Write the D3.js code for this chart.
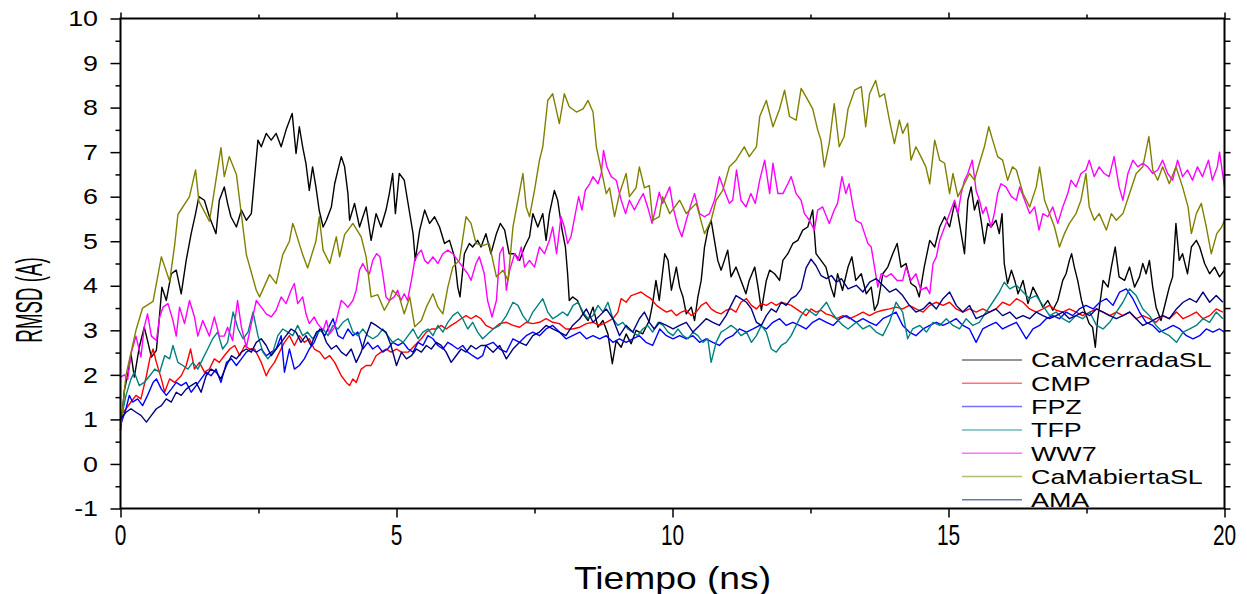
<!DOCTYPE html>
<html>
<head>
<meta charset="utf-8">
<script src="https://cdn.jsdelivr.net/npm/d3@7"></script>
<style>
  body { margin: 0; background: #fff; }
  svg { display: block; }
  text { font-family: "Liberation Sans", Arial, sans-serif; fill: #000; }
</style>
</head>
<body>
<svg id="chart" width="1247" height="594"></svg>
<script>
//////// Data (time in ns, RMSD in A)

var seriesNames = ["CaMcerradaSL", "CMP", "FPZ", "TFP", "WW7", "CaMabiertaSL", "AMA"]
var seriesColors = ["#000000", "#ff0000", "#0000ff", "#008080", "#ff00ff", "#808000", "#000080"]

var xTicks = [0, 5, 10, 15, 20]
var yTicks = [-1, 0, 1, 2, 3, 4, 5, 6, 7, 8, 9, 10]

var cerradaSL = [[0,0.75],[0.07,1.65],[0.13,2.0],[0.19,2.47],[0.25,1.95],[0.34,2.62],[0.43,3.07],[0.49,2.77],[0.56,2.4],[0.65,2.55],[0.71,3.37],[0.75,3.97],[0.83,3.67],[0.92,4.27],[1.01,4.35],[1.1,3.82],[1.19,4.57],[1.28,5.17],[1.36,5.62],[1.42,6.0],[1.52,5.92],[1.61,5.55],[1.73,5.17],[1.79,5.92],[1.88,6.22],[1.94,5.85],[2.0,5.55],[2.1,5.32],[2.19,5.7],[2.28,5.47],[2.37,5.62],[2.43,6.45],[2.49,7.27],[2.55,7.12],[2.64,7.42],[2.73,7.27],[2.82,7.42],[2.91,7.12],[3.0,7.5],[3.11,7.87],[3.18,6.97],[3.24,7.57],[3.3,7.12],[3.36,6.74],[3.42,6.14],[3.48,6.67],[3.54,6.22],[3.6,5.69],[3.67,5.32],[3.73,5.47],[3.82,5.77],[3.88,6.29],[3.94,6.6],[4.0,6.9],[4.06,6.67],[4.12,6.07],[4.15,5.47],[4.24,5.85],[4.33,5.32],[4.45,5.77],[4.54,5.02],[4.63,5.62],[4.72,5.32],[4.81,5.7],[4.87,6.07],[4.93,6.52],[4.98,5.62],[5.05,6.52],[5.14,6.37],[5.2,5.92],[5.3,5.17],[5.34,4.57],[5.42,5.25],[5.51,5.7],[5.6,5.4],[5.69,5.55],[5.78,5.32],[5.87,4.95],[5.96,5.02],[6.05,4.65],[6.11,3.97],[6.15,3.75],[6.23,4.72],[6.32,4.95],[6.38,4.87],[6.47,5.02],[6.53,4.87],[6.62,5.17],[6.71,4.72],[6.81,5.17],[6.88,5.4],[6.96,5.25],[7.04,4.72],[7.14,4.72],[7.23,4.57],[7.32,4.87],[7.41,5.1],[7.47,5.62],[7.56,5.32],[7.65,5.62],[7.71,5.02],[7.77,5.62],[7.86,6.14],[7.92,5.92],[8.0,5.25],[8.06,4.87],[8.1,4.27],[8.13,3.67],[8.19,3.75],[8.28,3.67],[8.38,3.37],[8.47,3.22],[8.56,3.52],[8.65,3.07],[8.74,3.22],[8.83,2.92],[8.91,2.25],[8.98,2.77],[9.07,2.62],[9.16,2.92],[9.25,2.7],[9.34,3.0],[9.46,2.92],[9.58,3.22],[9.64,3.6],[9.7,4.12],[9.76,3.67],[9.86,4.72],[9.92,4.57],[9.98,3.9],[10.07,4.42],[10.13,3.97],[10.19,3.75],[10.25,3.37],[10.34,3.52],[10.4,3.22],[10.46,3.75],[10.52,4.12],[10.58,4.87],[10.64,5.25],[10.7,5.47],[10.76,5.02],[10.82,4.57],[10.88,4.35],[10.94,4.57],[11.0,4.8],[11.06,4.2],[11.15,4.42],[11.24,4.12],[11.33,3.82],[11.39,4.12],[11.49,4.42],[11.55,3.97],[11.61,3.45],[11.7,4.12],[11.76,4.35],[11.85,4.27],[11.94,4.12],[12.0,4.57],[12.09,4.72],[12.18,4.95],[12.27,5.02],[12.36,5.25],[12.45,5.32],[12.54,5.7],[12.6,4.72],[12.69,4.57],[12.78,4.42],[12.87,3.97],[12.93,3.75],[12.99,4.27],[13.08,3.9],[13.18,4.42],[13.25,4.65],[13.32,4.12],[13.42,4.27],[13.51,3.82],[13.6,3.97],[13.66,3.45],[13.72,3.6],[13.81,4.27],[13.9,4.42],[13.99,4.72],[14.07,4.95],[14.14,4.42],[14.23,4.5],[14.32,4.05],[14.41,3.97],[14.47,3.75],[14.56,4.42],[14.66,5.02],[14.75,4.87],[14.84,5.32],[14.93,5.55],[15.02,5.32],[15.11,5.85],[15.17,5.62],[15.23,5.17],[15.29,4.72],[15.35,5.92],[15.41,6.22],[15.47,5.7],[15.53,5.92],[15.59,5.47],[15.65,4.95],[15.71,5.4],[15.77,5.32],[15.86,5.47],[15.92,5.17],[15.97,5.62],[16.01,4.5],[16.07,4.05],[16.14,4.35],[16.2,4.12],[16.26,3.82],[16.35,4.12],[16.44,3.6],[16.53,3.97],[16.62,3.75],[16.71,3.52],[16.8,3.67],[16.89,3.45],[16.98,3.67],[17.07,4.12],[17.13,4.27],[17.19,4.57],[17.23,4.72],[17.28,4.42],[17.34,4.12],[17.41,3.67],[17.46,3.45],[17.55,3.15],[17.61,3.07],[17.66,2.62],[17.7,3.22],[17.8,4.12],[17.89,3.97],[17.95,4.42],[18.02,4.87],[18.09,4.2],[18.19,4.12],[18.28,4.42],[18.37,3.97],[18.46,4.2],[18.52,4.5],[18.58,4.27],[18.64,4.57],[18.7,3.97],[18.76,3.52],[18.85,3.22],[18.94,3.67],[19.0,3.97],[19.06,4.2],[19.12,5.4],[19.18,4.57],[19.24,4.72],[19.33,4.27],[19.4,4.87],[19.49,5.02],[19.55,4.87],[19.64,4.5],[19.73,4.27],[19.82,4.42],[19.91,4.2],[20.0,4.35]]

var cmp = [[0,1.08],[0.1,1.24],[0.19,1.39],[0.28,1.54],[0.37,1.46],[0.47,1.98],[0.53,2.36],[0.59,2.58],[0.65,2.28],[0.74,1.91],[0.8,1.61],[0.89,1.91],[0.98,1.83],[1.1,1.98],[1.19,2.21],[1.27,2.58],[1.34,2.13],[1.43,2.28],[1.52,2.06],[1.61,2.13],[1.7,2.36],[1.79,2.28],[1.88,2.43],[1.98,2.58],[2.07,2.66],[2.16,2.43],[2.25,2.66],[2.34,2.58],[2.43,2.58],[2.55,2.28],[2.64,1.98],[2.7,2.13],[2.79,2.28],[2.88,2.51],[2.97,2.73],[3.06,2.88],[3.15,2.66],[3.24,2.88],[3.33,2.73],[3.42,2.81],[3.51,2.58],[3.61,2.51],[3.7,2.36],[3.79,2.43],[3.88,2.28],[3.94,2.13],[4.0,1.98],[4.09,1.83],[4.15,1.76],[4.21,1.91],[4.27,1.83],[4.36,2.13],[4.45,2.21],[4.54,2.21],[4.63,2.43],[4.72,2.51],[4.81,2.58],[4.9,2.51],[5.0,2.58],[5.09,2.51],[5.21,2.51],[5.33,2.66],[5.45,2.81],[5.54,2.96],[5.63,3.03],[5.72,3.03],[5.81,3.11],[5.9,3.03],[5.99,3.11],[6.08,3.18],[6.17,3.26],[6.26,3.33],[6.35,3.26],[6.44,3.33],[6.53,3.26],[6.62,3.11],[6.75,3.03],[6.87,3.15],[6.99,3.18],[7.11,3.11],[7.23,3.07],[7.35,3.18],[7.47,3.15],[7.59,3.18],[7.71,3.26],[7.83,3.18],[7.95,3.15],[8.07,3.03],[8.19,3.03],[8.32,3.07],[8.44,3.15],[8.56,3.18],[8.68,3.11],[8.8,3.18],[8.92,3.26],[9.01,3.41],[9.07,3.71],[9.16,3.63],[9.25,3.78],[9.34,3.82],[9.43,3.86],[9.52,3.78],[9.61,3.71],[9.71,3.56],[9.8,3.48],[9.89,3.41],[9.98,3.45],[10.07,3.33],[10.16,3.41],[10.25,3.45],[10.34,3.33],[10.43,3.41],[10.52,3.56],[10.61,3.63],[10.7,3.48],[10.79,3.41],[10.88,3.37],[10.97,3.45],[11.06,3.48],[11.15,3.41],[11.24,3.63],[11.34,3.71],[11.43,3.56],[11.52,3.48],[11.61,3.6],[11.7,3.56],[11.79,3.63],[11.88,3.56],[11.97,3.63],[12.06,3.6],[12.15,3.56],[12.24,3.48],[12.33,3.41],[12.42,3.33],[12.51,3.48],[12.6,3.41],[12.69,3.45],[12.78,3.37],[12.88,3.33],[12.97,3.26],[13.09,3.33],[13.21,3.26],[13.33,3.33],[13.45,3.41],[13.57,3.33],[13.69,3.41],[13.81,3.45],[13.93,3.48],[14.05,3.52],[14.17,3.48],[14.29,3.56],[14.41,3.48],[14.54,3.41],[14.66,3.56],[14.78,3.63],[14.9,3.56],[15.02,3.63],[15.14,3.48],[15.26,3.41],[15.38,3.48],[15.5,3.41],[15.62,3.48],[15.74,3.41],[15.86,3.48],[15.98,3.63],[16.11,3.56],[16.23,3.71],[16.35,3.63],[16.47,3.48],[16.59,3.41],[16.71,3.48],[16.83,3.56],[16.95,3.45],[17.07,3.41],[17.19,3.48],[17.31,3.41],[17.43,3.33],[17.56,3.41],[17.68,3.48],[17.8,3.41],[17.92,3.33],[18.04,3.41],[18.16,3.33],[18.28,3.41],[18.4,3.26],[18.52,3.33],[18.64,3.26],[18.76,3.18],[18.88,3.33],[19.0,3.26],[19.13,3.41],[19.25,3.26],[19.37,3.33],[19.49,3.41],[19.61,3.26],[19.73,3.33],[19.85,3.48],[19.97,3.41]]

var fpz = [[0,0.86],[0.1,1.24],[0.16,1.54],[0.22,1.39],[0.31,1.46],[0.4,1.31],[0.49,1.54],[0.59,1.83],[0.65,1.91],[0.74,1.68],[0.83,1.54],[0.92,1.68],[1.01,1.83],[1.1,1.76],[1.19,1.83],[1.28,1.61],[1.37,1.76],[1.46,1.91],[1.55,2.06],[1.64,1.98],[1.73,2.13],[1.82,1.83],[1.92,2.28],[2.01,2.36],[2.1,2.21],[2.19,2.36],[2.28,2.51],[2.37,2.58],[2.46,2.51],[2.55,2.58],[2.64,2.43],[2.73,2.51],[2.82,2.58],[2.91,2.88],[2.97,2.06],[3.06,2.58],[3.15,2.13],[3.24,2.21],[3.33,2.36],[3.42,2.58],[3.51,2.73],[3.61,3.03],[3.7,2.88],[3.79,3.11],[3.85,3.26],[3.94,2.88],[4.03,2.81],[4.12,3.03],[4.21,2.88],[4.3,2.96],[4.39,2.58],[4.48,2.73],[4.57,2.58],[4.66,2.66],[4.75,2.51],[4.84,2.58],[4.93,2.73],[5.03,2.66],[5.12,2.73],[5.21,2.58],[5.3,2.51],[5.39,2.73],[5.48,2.66],[5.57,2.88],[5.66,2.81],[5.75,2.66],[5.84,2.58],[5.93,2.73],[6.02,2.66],[6.11,2.58],[6.2,2.66],[6.29,2.51],[6.38,2.43],[6.47,2.36],[6.56,2.43],[6.62,2.66],[6.75,2.73],[6.87,2.58],[6.99,2.51],[7.11,2.81],[7.23,2.73],[7.35,2.88],[7.47,2.96],[7.59,2.88],[7.71,3.03],[7.83,3.11],[7.95,2.96],[8.07,2.81],[8.19,2.88],[8.32,2.96],[8.44,2.81],[8.56,2.88],[8.68,2.81],[8.8,2.88],[8.92,2.73],[9.04,2.81],[9.16,2.73],[9.28,2.81],[9.4,2.88],[9.52,2.73],[9.64,2.66],[9.77,3.03],[9.89,2.88],[10.01,2.81],[10.13,2.88],[10.25,2.81],[10.37,2.88],[10.49,2.73],[10.61,2.81],[10.73,2.73],[10.85,2.66],[10.97,2.81],[11.09,2.88],[11.21,3.03],[11.34,2.96],[11.46,3.03],[11.58,3.11],[11.7,3.03],[11.82,3.18],[11.94,3.26],[12.06,3.11],[12.18,3.18],[12.3,3.11],[12.42,3.03],[12.54,3.18],[12.66,3.26],[12.79,3.18],[12.91,3.11],[13.03,3.26],[13.15,3.33],[13.33,3.18],[13.45,3.26],[13.57,3.18],[13.69,3.11],[13.81,3.26],[13.93,3.33],[14.05,3.41],[14.17,3.11],[14.29,2.96],[14.41,2.88],[14.54,3.03],[14.66,3.11],[14.78,3.18],[14.9,3.11],[15.02,3.18],[15.14,3.26],[15.26,3.11],[15.38,3.03],[15.5,2.73],[15.62,3.03],[15.74,3.11],[15.86,3.18],[15.98,3.03],[16.11,3.11],[16.23,3.18],[16.41,2.81],[16.53,3.03],[16.65,3.11],[16.77,3.26],[16.89,3.33],[17.01,3.26],[17.13,3.41],[17.25,3.33],[17.37,3.48],[17.49,3.56],[17.62,3.48],[17.74,3.63],[17.86,3.71],[17.98,3.56],[18.1,3.86],[18.22,3.93],[18.34,3.71],[18.46,3.41],[18.58,3.18],[18.7,3.11],[18.82,2.96],[18.95,3.03],[19.07,3.11],[19.19,3.03],[19.31,2.88],[19.43,2.81],[19.55,2.88],[19.67,3.03],[19.79,2.96],[19.91,3.03],[20.0,2.96]]

var tfp = [[0,0.94],[0.1,1.54],[0.19,1.91],[0.25,2.06],[0.34,1.76],[0.43,1.83],[0.53,1.98],[0.62,2.13],[0.71,2.06],[0.8,2.43],[0.89,2.36],[0.95,2.66],[1.04,2.28],[1.13,2.21],[1.22,2.13],[1.31,2.28],[1.4,2.13],[1.49,2.36],[1.58,2.58],[1.67,2.81],[1.76,2.96],[1.85,2.58],[1.94,2.73],[2.04,3.41],[2.13,3.03],[2.22,2.81],[2.31,2.96],[2.4,3.41],[2.49,2.88],[2.58,2.51],[2.67,2.36],[2.76,2.51],[2.85,2.88],[2.94,3.03],[3.03,2.96],[3.12,2.88],[3.21,3.11],[3.3,2.88],[3.39,2.96],[3.48,2.81],[3.58,2.96],[3.67,3.03],[3.76,2.88],[3.85,3.11],[3.94,3.03],[4.03,3.18],[4.12,3.26],[4.21,2.96],[4.3,2.88],[4.39,3.03],[4.48,2.88],[4.57,2.81],[4.66,2.88],[4.75,3.03],[4.84,2.88],[4.93,2.73],[5.03,2.81],[5.12,2.73],[5.21,2.88],[5.3,3.03],[5.39,2.81],[5.48,2.96],[5.57,3.03],[5.66,2.88],[5.75,3.11],[5.84,2.96],[5.93,3.18],[6.02,3.33],[6.11,3.41],[6.2,3.26],[6.29,3.03],[6.38,3.18],[6.47,2.96],[6.56,2.81],[6.62,2.88],[6.75,3.03],[6.87,3.11],[6.99,3.33],[7.11,3.63],[7.2,3.56],[7.29,3.33],[7.38,3.18],[7.47,3.41],[7.56,3.56],[7.65,3.71],[7.74,3.41],[7.83,3.26],[7.92,3.33],[8.01,3.41],[8.1,3.33],[8.2,3.56],[8.29,3.63],[8.38,3.41],[8.47,3.26],[8.56,3.33],[8.65,3.56],[8.74,3.41],[8.83,3.63],[8.92,3.26],[9.01,3.11],[9.1,3.18],[9.19,3.03],[9.28,2.96],[9.37,2.88],[9.46,3.03],[9.55,3.11],[9.64,2.96],[9.74,3.18],[9.83,3.11],[9.92,2.96],[10.01,2.88],[10.1,3.03],[10.19,2.88],[10.28,2.81],[10.37,2.96],[10.46,2.88],[10.55,2.73],[10.64,2.81],[10.7,2.28],[10.79,2.73],[10.88,2.96],[10.97,3.03],[11.06,3.11],[11.15,3.03],[11.24,2.88],[11.34,2.96],[11.43,2.73],[11.52,2.88],[11.61,3.11],[11.7,2.96],[11.79,2.58],[11.88,2.51],[11.97,2.66],[12.06,2.73],[12.15,2.88],[12.24,3.11],[12.33,3.33],[12.42,3.48],[12.51,3.41],[12.6,3.33],[12.69,3.48],[12.79,3.63],[12.88,3.41],[12.97,3.26],[13.09,3.11],[13.18,3.03],[13.33,3.18],[13.45,3.03],[13.57,3.11],[13.69,2.96],[13.81,2.88],[13.93,3.18],[14.05,3.63],[14.17,3.41],[14.26,2.81],[14.35,3.03],[14.48,3.11],[14.6,2.96],[14.72,3.18],[14.84,3.11],[14.96,3.26],[15.08,3.11],[15.2,3.03],[15.32,3.26],[15.44,3.11],[15.56,3.18],[15.68,3.41],[15.8,3.63],[15.92,3.86],[16.01,4.08],[16.11,3.93],[16.23,4.01],[16.35,3.86],[16.47,3.71],[16.59,3.78],[16.71,3.56],[16.83,3.33],[16.95,3.41],[17.07,3.26],[17.19,3.18],[17.31,3.33],[17.43,3.26],[17.56,3.41],[17.68,3.11],[17.8,3.03],[17.92,3.18],[18.04,3.41],[18.16,3.63],[18.28,3.93],[18.4,3.78],[18.52,3.48],[18.64,3.33],[18.76,3.11],[18.88,2.96],[19.0,2.88],[19.13,2.73],[19.25,2.96],[19.37,3.03],[19.49,3.11],[19.61,3.26],[19.73,3.18],[19.85,3.41],[19.97,3.26]]

var ww7 = [[0,1.95],[0.07,2.0],[0.13,1.9],[0.19,2.47],[0.28,2.87],[0.37,2.4],[0.43,3.07],[0.49,3.37],[0.56,2.87],[0.65,2.77],[0.71,3.3],[0.77,3.52],[0.86,3.6],[0.95,3.22],[1.01,2.87],[1.07,3.52],[1.16,3.15],[1.25,3.67],[1.34,3.3],[1.4,2.87],[1.49,3.22],[1.61,2.87],[1.7,3.3],[1.79,2.87],[1.88,2.87],[1.94,3.07],[2.03,2.77],[2.12,3.67],[2.19,3.07],[2.28,2.62],[2.37,3.15],[2.46,3.67],[2.55,3.52],[2.64,3.37],[2.73,3.3],[2.82,3.45],[2.91,3.75],[3.0,3.6],[3.09,3.9],[3.15,4.05],[3.21,3.6],[3.3,3.75],[3.36,3.37],[3.42,3.15],[3.51,3.3],[3.57,3.15],[3.67,3.0],[3.73,3.22],[3.79,2.92],[3.88,3.07],[3.94,3.37],[4.0,3.67],[4.06,3.6],[4.12,3.52],[4.21,3.67],[4.27,3.9],[4.33,4.35],[4.39,4.5],[4.45,4.35],[4.51,4.27],[4.57,4.57],[4.64,4.72],[4.7,4.65],[4.75,4.27],[4.81,3.75],[4.87,3.67],[4.96,3.75],[5.02,3.9],[5.08,3.67],[5.14,3.82],[5.2,3.67],[5.27,4.12],[5.33,4.57],[5.39,4.72],[5.45,4.8],[5.51,4.57],[5.57,4.5],[5.66,4.65],[5.75,4.5],[5.84,4.72],[5.93,4.8],[6.02,4.72],[6.11,4.57],[6.2,4.42],[6.29,4.27],[6.35,4.12],[6.44,4.5],[6.5,4.65],[6.59,4.27],[6.65,3.67],[6.73,3.3],[6.81,3.67],[6.87,4.72],[6.93,4.87],[6.99,3.9],[7.05,4.35],[7.14,4.72],[7.2,4.57],[7.26,4.87],[7.32,4.42],[7.41,4.57],[7.5,4.42],[7.59,4.87],[7.68,4.72],[7.77,5.02],[7.83,5.32],[7.9,4.72],[7.98,5.55],[8.04,5.32],[8.1,4.95],[8.16,5.1],[8.24,5.62],[8.3,6.0],[8.36,5.7],[8.42,6.14],[8.5,6.29],[8.56,6.45],[8.65,6.29],[8.71,6.52],[8.75,7.04],[8.81,6.67],[8.89,6.45],[8.98,6.37],[9.07,5.92],[9.15,5.62],[9.22,5.92],[9.31,5.7],[9.4,5.92],[9.47,6.07],[9.55,5.77],[9.63,5.4],[9.7,5.77],[9.76,6.1],[9.82,5.85],[9.95,6.22],[10.01,5.77],[10.1,5.32],[10.17,5.1],[10.25,5.47],[10.34,5.85],[10.4,6.07],[10.49,5.62],[10.58,5.55],[10.67,5.62],[10.76,5.92],[10.85,6.45],[10.94,6.14],[11.03,5.85],[11.09,5.92],[11.16,6.6],[11.24,5.92],[11.33,5.77],[11.42,6.07],[11.5,5.85],[11.58,6.37],[11.67,6.82],[11.76,6.07],[11.82,6.75],[11.91,6.07],[12.0,6.07],[12.09,6.29],[12.15,6.45],[12.24,6.07],[12.33,5.92],[12.39,5.62],[12.48,5.47],[12.57,5.25],[12.63,5.7],[12.72,5.77],[12.84,5.4],[12.93,5.7],[12.99,5.85],[13.07,6.45],[13.14,6.07],[13.2,6.29],[13.26,5.85],[13.32,5.47],[13.42,5.4],[13.48,5.17],[13.54,4.95],[13.6,4.87],[13.66,4.42],[13.72,3.97],[13.78,4.27],[13.87,4.2],[13.96,4.27],[14.07,4.12],[14.17,4.12],[14.23,4.42],[14.32,4.12],[14.41,4.27],[14.5,3.9],[14.6,3.97],[14.66,3.82],[14.72,4.5],[14.78,4.65],[14.84,5.02],[14.93,5.32],[15.02,5.62],[15.11,5.92],[15.17,5.62],[15.23,6.07],[15.29,6.37],[15.35,6.52],[15.43,6.82],[15.5,6.14],[15.56,5.92],[15.62,5.62],[15.68,5.77],[15.77,5.32],[15.83,5.62],[15.89,6.07],[15.95,6.29],[16.04,6.22],[16.14,6.0],[16.23,5.92],[16.29,6.22],[16.38,5.92],[16.47,5.62],[16.56,5.77],[16.64,5.25],[16.71,5.62],[16.8,5.55],[16.89,5.77],[16.98,5.4],[17.07,5.77],[17.16,6.07],[17.22,6.37],[17.31,6.22],[17.4,6.52],[17.49,6.6],[17.55,6.82],[17.64,6.45],[17.73,6.67],[17.82,6.52],[17.91,6.45],[18.0,6.9],[18.09,6.22],[18.16,5.92],[18.25,6.52],[18.34,6.82],[18.43,6.67],[18.52,6.75],[18.61,6.67],[18.7,6.52],[18.79,6.6],[18.88,6.82],[18.97,6.52],[19.06,6.37],[19.15,6.82],[19.24,6.45],[19.33,6.6],[19.42,6.37],[19.51,6.67],[19.6,6.45],[19.71,6.82],[19.78,6.37],[19.87,6.67],[19.91,7.0],[20.0,6.22]]

var abiertaSL = [[0,0.75],[0.1,2.0],[0.28,3.0],[0.4,3.5],[0.59,3.65],[0.74,4.65],[0.89,4.1],[0.98,4.9],[1.04,5.6],[1.25,6.0],[1.36,6.6],[1.42,5.9],[1.61,5.45],[1.67,5.9],[1.82,7.1],[1.88,6.45],[1.97,6.9],[2.1,6.5],[2.19,5.6],[2.28,4.7],[2.46,3.9],[2.52,3.75],[2.7,4.25],[2.82,4.05],[2.94,4.7],[3.06,5.0],[3.12,5.4],[3.15,5.3],[3.3,4.7],[3.39,4.4],[3.54,5.0],[3.6,5.55],[3.67,4.8],[3.79,4.5],[3.91,5.1],[3.97,4.65],[4.06,5.15],[4.21,5.4],[4.36,5.1],[4.45,4.65],[4.54,3.75],[4.66,3.8],[4.78,3.45],[4.87,3.65],[4.93,3.9],[5.05,3.75],[5.14,3.37],[5.24,3.75],[5.33,3.08],[5.45,3.22],[5.54,3.52],[5.66,3.82],[5.75,3.52],[5.84,3.37],[5.93,3.97],[6.02,4.42],[6.14,4.57],[6.26,5.55],[6.35,5.4],[6.44,4.95],[6.56,4.9],[6.68,4.95],[6.74,4.6],[6.81,4.2],[6.93,4.35],[7.02,4.12],[7.11,5.32],[7.2,5.92],[7.29,6.52],[7.35,5.77],[7.41,5.55],[7.5,6.14],[7.59,6.82],[7.65,7.12],[7.74,8.16],[7.83,8.31],[7.95,7.64],[8.04,8.31],[8.13,8.02],[8.26,7.9],[8.38,7.97],[8.47,8.16],[8.56,7.9],[8.62,7.12],[8.71,6.6],[8.8,6.07],[8.86,6.2],[8.95,5.55],[9.04,6.07],[9.16,6.52],[9.22,6.0],[9.34,6.2],[9.4,6.67],[9.49,6.2],[9.58,6.25],[9.64,5.47],[9.76,5.55],[9.82,6.0],[9.95,5.62],[10.13,5.92],[10.25,5.62],[10.43,5.85],[10.58,5.17],[10.7,5.47],[10.79,5.92],[10.91,6.14],[11.03,6.67],[11.15,6.82],[11.3,7.12],[11.39,6.9],[11.52,7.12],[11.58,7.8],[11.7,8.16],[11.82,7.57],[11.94,7.97],[12.03,8.39],[12.12,7.8],[12.24,7.72],[12.33,8.43],[12.42,8.24],[12.54,7.97],[12.63,7.5],[12.69,7.27],[12.75,6.67],[12.84,7.2],[12.93,8.09],[13.02,7.12],[13.11,7.35],[13.18,7.97],[13.3,8.39],[13.42,8.47],[13.5,7.57],[13.57,8.31],[13.68,8.61],[13.75,8.24],[13.84,8.31],[13.93,7.72],[14.02,7.19],[14.11,7.72],[14.17,7.42],[14.26,7.65],[14.32,6.82],[14.41,7.12],[14.5,6.9],[14.59,6.67],[14.66,6.29],[14.75,7.27],[14.84,6.82],[14.93,6.75],[15.02,6.07],[15.08,6.52],[15.17,6.0],[15.26,6.22],[15.38,6.52],[15.47,6.37],[15.56,6.75],[15.65,7.12],[15.73,7.57],[15.8,7.27],[15.89,6.9],[15.98,6.82],[16.07,6.37],[16.16,6.67],[16.23,6.6],[16.35,6.07],[16.47,5.77],[16.59,6.22],[16.65,6.67],[16.74,5.92],[16.83,5.62],[16.92,5.32],[17.01,4.87],[17.1,5.17],[17.19,5.4],[17.31,5.62],[17.4,5.92],[17.49,6.52],[17.55,5.77],[17.64,5.47],[17.73,5.62],[17.86,5.25],[17.95,5.62],[18.04,5.47],[18.16,5.62],[18.28,6.07],[18.4,6.52],[18.52,6.67],[18.63,7.35],[18.7,6.6],[18.79,6.37],[18.88,6.67],[19.0,6.29],[19.12,6.67],[19.24,6.22],[19.34,5.77],[19.4,5.17],[19.49,5.62],[19.58,5.85],[19.67,5.32],[19.76,4.72],[19.86,5.17],[19.95,5.32],[20.0,5.47]]

var ama = [[0,1.01],[0.1,1.16],[0.19,1.24],[0.28,1.16],[0.37,1.09],[0.47,0.94],[0.56,1.09],[0.65,1.24],[0.74,1.31],[0.83,1.46],[0.92,1.39],[1.01,1.61],[1.1,1.54],[1.19,1.68],[1.28,1.76],[1.37,1.83],[1.46,1.61],[1.55,1.98],[1.64,2.13],[1.73,2.06],[1.82,1.91],[1.92,2.21],[2.01,2.43],[2.1,2.36],[2.19,2.51],[2.28,2.58],[2.37,2.51],[2.46,2.73],[2.55,2.81],[2.64,2.66],[2.73,2.43],[2.82,2.58],[2.91,2.73],[3.0,2.88],[3.09,3.03],[3.18,2.96],[3.27,2.73],[3.36,2.88],[3.45,2.66],[3.55,2.96],[3.64,3.03],[3.73,2.73],[3.82,2.58],[3.91,2.66],[4.0,2.51],[4.09,2.43],[4.18,2.58],[4.27,2.28],[4.36,2.51],[4.45,2.88],[4.54,3.18],[4.63,3.11],[4.72,3.03],[4.81,2.96],[4.9,2.66],[5.0,2.21],[5.09,2.51],[5.18,2.36],[5.27,2.43],[5.36,2.58],[5.45,2.51],[5.54,2.66],[5.63,2.58],[5.72,2.73],[5.81,2.66],[5.9,2.51],[5.99,2.28],[6.08,2.43],[6.17,2.58],[6.26,2.51],[6.35,2.66],[6.44,2.58],[6.53,2.66],[6.62,2.66],[6.75,2.51],[6.87,2.66],[6.99,2.36],[7.11,2.58],[7.23,2.73],[7.35,2.66],[7.47,2.88],[7.59,2.96],[7.71,3.11],[7.83,3.03],[7.95,2.96],[8.07,2.88],[8.19,3.11],[8.32,3.26],[8.44,3.48],[8.56,3.18],[8.68,3.33],[8.8,3.48],[8.92,3.26],[9.04,2.88],[9.16,3.11],[9.28,2.96],[9.4,3.26],[9.49,3.41],[9.58,3.18],[9.67,3.03],[9.77,3.18],[9.89,3.11],[10.01,3.03],[10.13,3.11],[10.25,3.18],[10.37,2.96],[10.49,3.11],[10.61,3.26],[10.73,3.18],[10.85,3.11],[10.97,3.33],[11.06,3.56],[11.15,3.78],[11.24,3.71],[11.34,3.63],[11.43,3.48],[11.52,3.18],[11.61,3.11],[11.7,3.33],[11.79,3.48],[11.88,3.41],[11.97,3.63],[12.06,3.56],[12.15,3.71],[12.24,3.78],[12.33,3.93],[12.42,4.4],[12.51,4.6],[12.6,4.45],[12.69,4.23],[12.79,4.16],[12.88,4.23],[12.97,4.08],[13.06,4.16],[13.18,3.93],[13.33,4.01],[13.45,3.86],[13.57,4.08],[13.69,4.16],[13.81,4.01],[13.93,3.86],[14.05,3.93],[14.17,3.78],[14.29,3.56],[14.41,3.41],[14.54,3.48],[14.66,3.63],[14.78,3.48],[14.9,3.71],[15.02,3.86],[15.14,3.56],[15.26,3.41],[15.38,3.56],[15.5,3.26],[15.62,3.33],[15.74,3.41],[15.86,3.48],[15.98,3.33],[16.11,3.41],[16.23,3.26],[16.35,3.33],[16.47,3.26],[16.59,3.41],[16.71,3.33],[16.83,3.26],[16.95,3.33],[17.07,3.41],[17.19,3.26],[17.31,3.33],[17.43,3.41],[17.56,3.33],[17.68,3.48],[17.8,3.41],[17.92,3.33],[18.04,3.26],[18.16,3.33],[18.28,3.41],[18.4,3.26],[18.52,3.11],[18.64,3.18],[18.76,3.26],[18.88,3.33],[19.0,3.26],[19.13,3.48],[19.25,3.63],[19.37,3.71],[19.49,3.63],[19.61,3.86],[19.73,3.63],[19.85,3.78],[19.97,3.63]]

var allSeries = [cerradaSL, cmp, fpz, tfp, ww7, abiertaSL, ama]

//////// Layout
var svg = d3.select("#chart")
var plotL = 120.5, plotR = 1224.5, plotT = 18.5, plotB = 508.5

var x = d3.scaleLinear().domain([0, 20]).range([plotL, plotR])
var y = d3.scaleLinear().domain([-1, 10]).range([plotB, plotT])

// stretched / squeezed text like the original export
function label(px, py, str, size, sx, anchor, rot) {
  return svg.append("text")
    .attr("transform", "translate(" + px + "," + py + ") rotate(" + (rot || 0) + ") scale(" + sx + ",1)")
    .attr("text-anchor", anchor)
    .attr("dy", "0.35em")
    .style("font-size", size + "px")
    .text(str)
}

//////// Series
var line = d3.line().x(d => x(d[0])).y(d => y(d[1]))

svg.append("g").selectAll("path")
  .data(allSeries)
  .join("path")
  .attr("d", d => line(d))
  .attr("fill", "none")
  .attr("stroke", (d, i) => seriesColors[i])
  .attr("stroke-width", 1.4)
  .attr("stroke-linejoin", "round")

//////// Axes
function noDomain(g) { g.select(".domain").remove() }

// left
svg.append("g").attr("transform", "translate(" + plotL + ",0)")
  .call(d3.axisLeft(y).tickValues(yTicks).tickSize(10).tickFormat(""))
  .call(noDomain)
svg.append("g").attr("transform", "translate(" + plotL + ",0)")
  .call(d3.axisLeft(y).tickValues(yTicks.slice(0, -1).map(d => d + 0.5)).tickSize(5).tickFormat(""))
  .call(noDomain)
// right
svg.append("g").attr("transform", "translate(" + plotR + ",0)")
  .call(d3.axisRight(y).tickValues(d3.range(-1, 10.01, 0.5)).tickSize(6).tickFormat(""))
  .call(noDomain)
// bottom
svg.append("g").attr("transform", "translate(0," + plotB + ")")
  .call(d3.axisBottom(x).tickValues(xTicks).tickSize(9).tickFormat(""))
  .call(noDomain)
svg.append("g").attr("transform", "translate(0," + plotB + ")")
  .call(d3.axisBottom(x).tickValues([2.5, 7.5, 12.5, 17.5]).tickSize(5).tickFormat(""))
  .call(noDomain)
// top
svg.append("g").attr("transform", "translate(0," + plotT + ")")
  .call(d3.axisTop(x).tickValues(xTicks).tickSize(6).tickFormat(""))
  .call(noDomain)
svg.append("g").attr("transform", "translate(0," + plotT + ")")
  .call(d3.axisTop(x).tickValues([2.5, 7.5, 12.5, 17.5]).tickSize(4).tickFormat(""))
  .call(noDomain)

svg.selectAll(".tick line").attr("stroke", "#000").attr("stroke-width", 1.5)

// frame
svg.append("rect")
  .attr("x", plotL).attr("y", plotT)
  .attr("width", plotR - plotL).attr("height", plotB - plotT)
  .attr("fill", "none").attr("stroke", "#000").attr("stroke-width", 2)

// tick labels
yTicks.forEach(v => label(98, y(v), v, 22, 1.22, "end"))
xTicks.forEach(v => label(x(v), 535, v, 29, 0.72, "middle"))

// titles
label((plotL + plotR) / 2, 578, "Tiempo (ns)", 31, 1.2, "middle")
label(29, 300, "RMSD (A)", 36, 0.52, "middle", -90)

//////// Legend
seriesNames.forEach(function (name, i) {
  var ly = 360 + i * 23.3
  svg.append("line")
    .attr("x1", 962).attr("x2", 1022).attr("y1", ly).attr("y2", ly)
    .attr("stroke", seriesColors[i]).attr("stroke-width", 1.5).attr("opacity", 0.55)
  label(1031, ly, name, 21, 1.28, "start")
})
</script>
</body>
</html>
